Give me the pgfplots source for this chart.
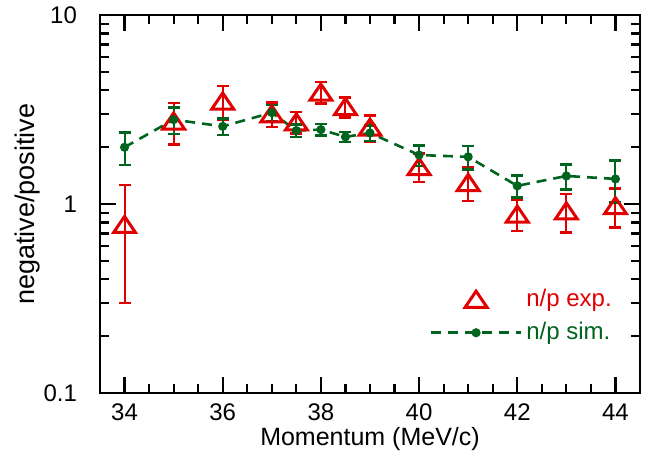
\documentclass[border=0pt]{standalone}
\usepackage{pgfplots}
\pgfplotsset{compat=1.18}
\usepackage{pgfplotstable}
\usepackage{fontspec}
\setmainfont{Liberation Sans}
\definecolor{npred}{RGB}{225,0,0}
\definecolor{npgreen}{RGB}{0,100,30}

% measured n/p ratio
\pgfplotstableread{
x     y      err
34    0.78   0.48
35    2.75   0.68
36    3.51   0.70
37    3.00   0.44
37.5  2.72   0.36
38    3.91   0.51
38.5  3.28   0.40
39    2.55   0.40
40    1.58   0.27
41    1.30   0.26
42    0.885  0.165
43    0.92   0.21
44    0.98   0.23
}\expdata

% simulated n/p ratio
\pgfplotstableread{
x     y      err
34    2.00   0.39
35    2.80   0.45
36    2.58   0.26
37    3.05   0.30
37.5  2.45   0.18
38    2.48   0.18
38.5  2.27   0.14
39    2.38   0.22
40    1.82   0.23
41    1.78   0.25
42    1.25   0.165
43    1.41   0.21
44    1.36   0.34
}\simdata

\begin{document}
\begin{tikzpicture}
\begin{axis}[
    scale only axis,
    width=270pt, height=189pt,
    xmin=33.5, xmax=44.5,
    ymode=log, ymin=0.1, ymax=10,
    xtick={34,36,...,44}, minor x tick num=3,
    ytick={0.1,1,10}, yticklabels={0.1,1,10},
    /pgf/number format/assume math mode=true,
    tick label style={font=\fontsize{12}{14}\selectfont},
    yticklabel style={xshift=-8pt},
    xticklabel style={yshift=-2pt},
    xlabel={Momentum (MeV/c)},
    ylabel={negative/positive},
    xlabel style={font=\fontsize{12.5}{14}\selectfont, yshift=4pt},
    ylabel style={font=\fontsize{13.5}{15}\selectfont},
    ylabel shift=-5pt,
    axis line style={line width=1.2pt},
    major tick length=8pt, minor tick length=4.5pt,
    every tick/.style={black, line width=1.1pt},
    legend style={draw=none, fill=none, at={(0.967,0.204)}, anchor=east,
        font=\fontsize{12}{14.5}\selectfont, row sep=2.5pt},
    legend cell align=left,
    legend image code/.code={\draw[mark repeat=2, mark phase=2, #1]
        plot coordinates {(0pt,0pt) (22.5pt,0pt) (45pt,0pt)};},
]
\addplot[npred, line width=1.3pt, only marks, mark=triangle, mark size=6.3pt,
    mark options={yscale=0.85, yshift=-1.5pt, line width=1.5pt},
    error bars/.cd, y dir=both, y explicit,
    error bar style={line width=1pt},
    error mark options={rotate=90, mark size=3pt, line width=1.3pt}]
    table[x=x, y=y, y error=err] {\expdata};
\addlegendentry{\textcolor{npred}{n/p exp.}}
\addplot[npgreen, line width=1.3pt, dash pattern=on 5pt off 3.5pt,
    mark=*, mark size=1.6pt, mark options={solid},
    error bars/.cd, y dir=both, y explicit,
    error bar style={solid, line width=1pt},
    error mark options={rotate=90, mark size=3pt, line width=1.3pt, solid}]
    table[x=x, y=y, y error=err] {\simdata};
\addlegendentry{\textcolor{npgreen}{n/p sim.}}
\end{axis}
\path (current axis.south west) ++(-50pt,-30pt)
      (current axis.north east) ++(5pt,7pt);
\end{tikzpicture}
\end{document}
